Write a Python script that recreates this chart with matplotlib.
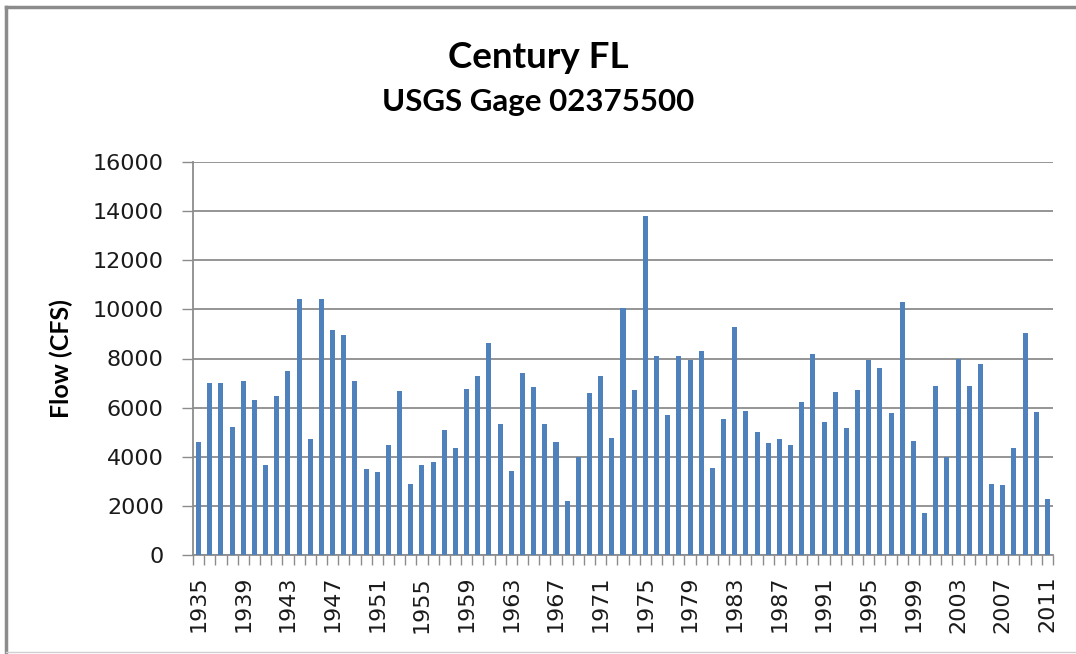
import numpy as np
import matplotlib.pyplot as plt
from matplotlib.lines import Line2D

# Annual mean flow, USGS gage 02375500 (Escambia River near Century FL)
years = list(range(1935, 2012))
flow = [4600, 7000, 7000, 5200, 7080, 6300, 3670, 6480, 7490, 10410,
        4710, 10410, 9170, 8940, 7080, 3490, 3370, 4480, 6660, 2910,
        3670, 3780, 5070, 4360, 6770, 7300, 8640, 5350, 3420, 7400,
        6830, 5350, 4590, 2190, 3970, 6590, 7300, 4780, 10040, 6710,
        13800, 8110, 5710, 8110, 7950, 8290, 3530, 5530, 9280, 5880,
        5000, 4540, 4710, 4480, 6240, 8180, 5410, 6640, 5190, 6710,
        7950, 7600, 5770, 10290, 4660, 1730, 6880, 4010, 7990, 6880,
        7770, 2910, 2840, 4360, 9050, 5830, 2260]
yticks = list(range(0, 16001, 2000))

bar_color = "#4F81BD"
grid_color = "#8C8C8C"

fig = plt.figure(figsize=(10.76, 6.54), dpi=100)
ax = fig.add_axes([193 / 1076, 99 / 654, 860 / 1076, 393 / 654])

x = np.arange(len(years))
ax.bar(x, flow, width=0.45, color=bar_color, zorder=3)

ax.set_xlim(-0.5, len(years) - 0.5)
ax.set_ylim(0, 16000)
ax.set_yticks(yticks)
ax.set_yticklabels([str(v) for v in yticks], fontsize=16, color="#1A1A1A")
ax.yaxis.grid(True, color=grid_color, linewidth=1.3, zorder=0)
ax.tick_params(axis="y", length=8, width=1, color=grid_color, pad=13)

# labels every 4th year, tick marks between categories (Excel style)
ax.set_xticks(x[::4])
ax.set_xticklabels([str(y) for y in years[::4]], rotation=90, fontsize=16,
                   color="#1A1A1A")
ax.set_xticks(np.arange(-0.5, len(years)), minor=True)
ax.tick_params(axis="x", which="major", length=0, pad=15)
ax.tick_params(axis="x", which="minor", length=7, width=1, color=grid_color)

for side in ["top", "right"]:
    ax.spines[side].set_visible(False)
for side in ["left", "bottom"]:
    ax.spines[side].set_color(grid_color)
    ax.spines[side].set_linewidth(1.3)

ax.set_ylabel("Flow (CFS)", fontsize=18, fontweight="bold", fontfamily="Lato")
ax.yaxis.set_label_coords(-0.14, 0.5)

fig.text(0.5, 1 - 57 / 654, "Century FL", ha="center", va="center",
         fontsize=26.5, fontweight="bold", fontfamily="Lato")
fig.text(0.5, 1 - 102 / 654, "USGS Gage 02375500", ha="center",
         va="center", fontsize=22.5, fontweight="bold", fontfamily="Lato")

# chart border (top and left visible in the screenshot)
fig.add_artist(Line2D([6 / 1076, 1], [1 - 7 / 654, 1 - 7 / 654],
                      color="#8C8C8C", linewidth=2.5))
fig.add_artist(Line2D([6 / 1076, 6 / 1076], [1 - 7 / 654, 0.003],
                      color="#8C8C8C", linewidth=2.5))
fig.add_artist(Line2D([6 / 1076, 1], [0.003, 0.003],
                      color="#D0D0D0", linewidth=1))

fig.savefig("out.png", dpi=100)
